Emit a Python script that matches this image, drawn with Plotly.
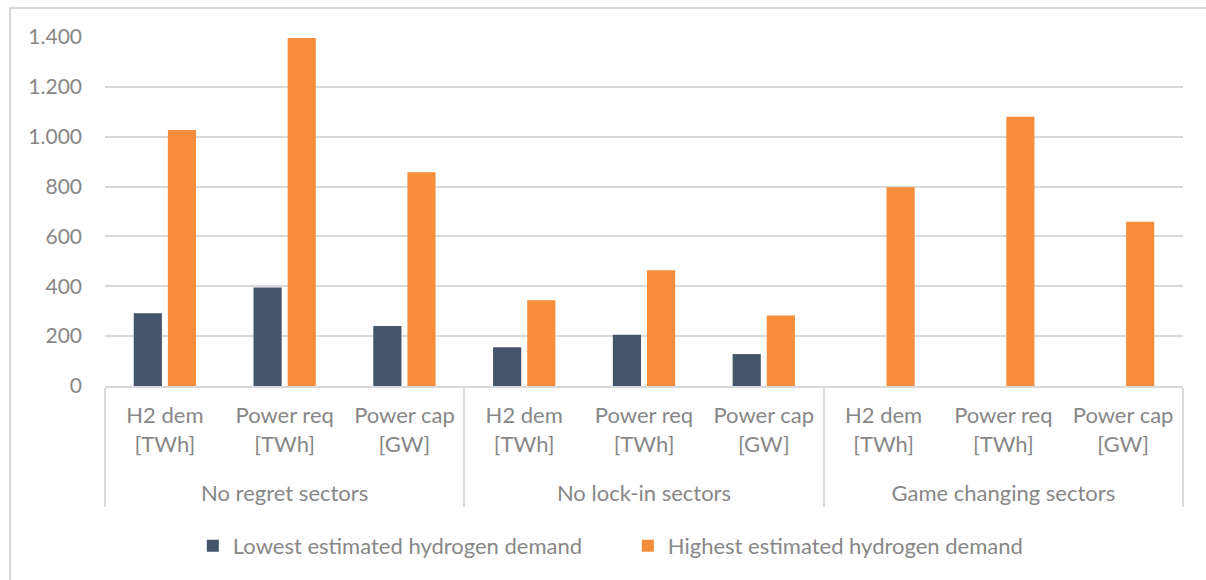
import plotly.graph_objects as go

# data
sectors = ["No regret sectors"] * 3 + ["No lock-in sectors"] * 3 + ["Game changing sectors"] * 3
metrics = ["H2 dem<br>[TWh]<br> ", "Power req<br>[TWh]<br> ", "Power cap<br>[GW]<br> "] * 3
lowest = [292, 395, 241, 155, 206, 128, 0, 0, 0]
highest = [1027, 1396, 857, 344, 464, 283, 797, 1080, 659]

NAVY = "#44546a"
ORANGE = "#f58d3b"
GRID = "#d9d9d9"
TEXT = "#878787"
FONT = "Lato"

fig = go.Figure()
fig.add_trace(go.Bar(
    x=[sectors, metrics], y=lowest,
    name="Lowest estimated hydrogen demand",
    marker=dict(color=NAVY, line=dict(width=0)),
))
fig.add_trace(go.Bar(
    x=[sectors, metrics], y=highest,
    name="Highest estimated hydrogen demand",
    marker=dict(color=ORANGE, line=dict(width=0)),
))

fig.update_layout(
    width=1206, height=580,
    margin=dict(l=105, r=23, t=37, b=194),
    paper_bgcolor="white", plot_bgcolor="white",
    font=dict(family=FONT, size=22, color=TEXT),
    separators=",.",
    barmode="group", bargap=0.43, bargroupgap=0.175,
    showlegend=True,
    legend=dict(orientation="h", x=0.485, xanchor="center", y=-0.458, yanchor="middle",
                font=dict(size=22, color=TEXT), itemwidth=30, entrywidth=390,
                traceorder="normal"),
)

fig.update_yaxes(
    range=[0, 1400], dtick=200, tickformat=",d",
    showgrid=True, gridcolor=GRID, gridwidth=2,
    zeroline=False, showline=False, ticks="",
    tickfont=dict(size=21, color=TEXT), ticklabelstandoff=22,
)
fig.update_xaxes(
    type="multicategory",
    showline=True, linecolor=GRID, linewidth=2,
    showdividers=True, dividercolor=GRID, dividerwidth=2,
    ticks="", tickfont=dict(size=22, color=TEXT), ticklabelstandoff=9,
)

# chart-area border (left and top edges visible in the frame)
fig.add_shape(type="rect", xref="paper", yref="paper",
              x0=-0.0881, x1=1.05, y0=-0.6, y1=1.0831,
              line=dict(color=GRID, width=2), fillcolor="rgba(0,0,0,0)", layer="below")

fig.write_html("out.html", config={"displayModeBar": False},
               post_script="document.body.style.margin='0';")
